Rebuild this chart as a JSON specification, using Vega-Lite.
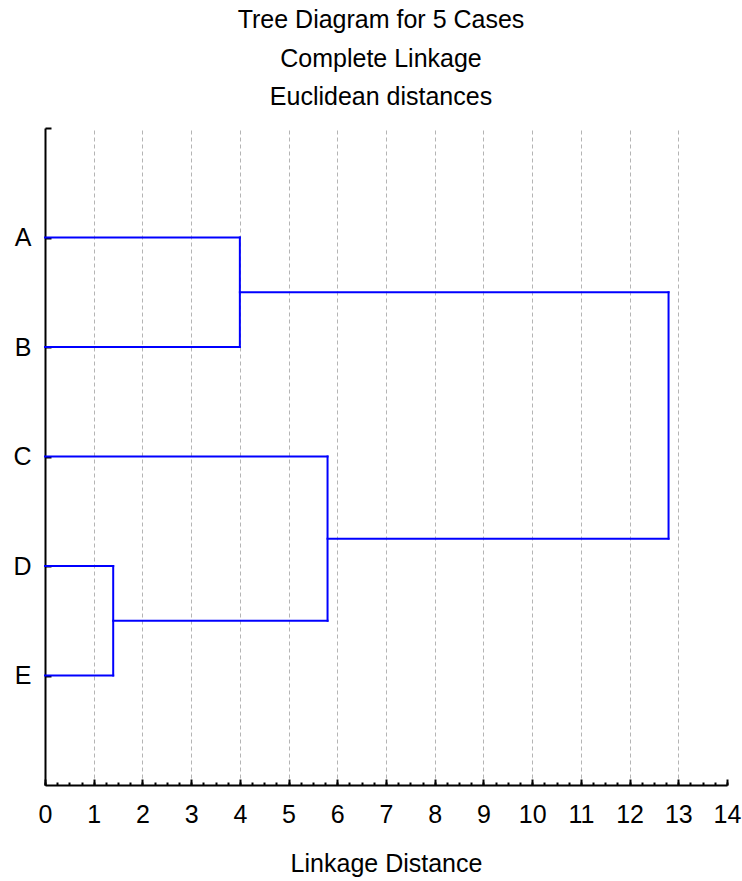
{
  "$schema": "https://vega.github.io/schema/vega-lite/v6.json",
  "autosize": {"type": "none"},
  "width": 682,
  "height": 657,
  "padding": {"left": 45, "top": 128, "right": 15, "bottom": 96},
  "background": "white",
  "config": {
    "font": "Liberation Sans",
    "view": {"stroke": null},
    "axis": {"labelFont": "Liberation Sans", "titleFont": "Liberation Sans", "labelColor": "black", "titleColor": "black", "domainColor": "black", "tickColor": "black"}
  },
  "title": {
    "text": ["Tree Diagram for 5 Cases", "Complete Linkage", "Euclidean distances"],
    "fontSize": 25,
    "fontWeight": "normal",
    "font": "Liberation Sans",
    "lineHeight": 38.5,
    "anchor": "middle",
    "dx": -5,
    "color": "black",
    "offset": 17
  },
  "data": {
    "values": [
      {"x": 0, "x2": 4, "y": 1, "y2": 1},
      {"x": 0, "x2": 4, "y": 2, "y2": 2},
      {"x": 4, "x2": 4, "y": 1, "y2": 2},
      {"x": 4, "x2": 12.8, "y": 1.5, "y2": 1.5},
      {"x": 0, "x2": 5.8, "y": 3, "y2": 3},
      {"x": 0, "x2": 1.4, "y": 4, "y2": 4},
      {"x": 0, "x2": 1.4, "y": 5, "y2": 5},
      {"x": 1.4, "x2": 1.4, "y": 4, "y2": 5},
      {"x": 1.4, "x2": 5.8, "y": 4.5, "y2": 4.5},
      {"x": 5.8, "x2": 5.8, "y": 3, "y2": 4.5},
      {"x": 5.8, "x2": 12.8, "y": 3.75, "y2": 3.75},
      {"x": 12.8, "x2": 12.8, "y": 1.5, "y2": 3.75}
    ]
  },
  "resolve": {"axis": {"x": "independent"}},
  "layer": [
    {
      "transform": [{"filter": "datum.y == datum.y2"}],
      "mark": {"type": "rule", "color": "#0000ff", "strokeWidth": 2, "strokeCap": "square"},
      "encoding": {
        "x": {
          "field": "x", "type": "quantitative",
          "scale": {"domain": [0, 14], "nice": false, "zero": false},
          "axis": {
            "orient": "bottom",
            "values": [0, 1, 2, 3, 4, 5, 6, 7, 8, 9, 10, 11, 12, 13, 14],
            "title": "Linkage Distance",
            "titleFontSize": 25, "titleFontWeight": "normal", "titlePadding": 24,
            "labelFontSize": 25, "labelPadding": 23, "labelFlush": false,
            "tickSize": -6, "tickWidth": 2, "domainWidth": 2,
            "grid": true, "gridColor": "#b4b4b4", "gridDash": [4, 3], "gridWidth": 1,
            "gridOpacity": {"condition": {"test": "datum.value == 0 || datum.value == 14", "value": 0}, "value": 1}
          }
        },
        "x2": {"field": "x2"},
        "y": {
          "field": "y", "type": "quantitative",
          "scale": {"domain": [0, 6], "nice": false, "zero": false, "reverse": true},
          "axis": {
            "values": [0, 1, 2, 3, 4, 5],
            "labelExpr": "['', 'A', 'B', 'C', 'D', 'E'][datum.value]",
            "title": null,
            "labelFontSize": 25, "labelPadding": 20,
            "tickSize": -6, "tickWidth": 2, "domainWidth": 2,
            "grid": false
          }
        }
      }
    },
    {
      "transform": [{"filter": "datum.x == datum.x2"}],
      "mark": {"type": "rule", "color": "#0000ff", "strokeWidth": 2, "strokeCap": "square"},
      "encoding": {
        "x": {
          "field": "x", "type": "quantitative",
          "axis": {
            "orient": "bottom",
            "values": [0, 0.25, 0.5, 0.75, 1, 1.25, 1.5, 1.75, 2, 2.25, 2.5, 2.75, 3, 3.25, 3.5, 3.75, 4, 4.25, 4.5, 4.75, 5, 5.25, 5.5, 5.75, 6, 6.25, 6.5, 6.75, 7, 7.25, 7.5, 7.75, 8, 8.25, 8.5, 8.75, 9, 9.25, 9.5, 9.75, 10, 10.25, 10.5, 10.75, 11, 11.25, 11.5, 11.75, 12, 12.25, 12.5, 12.75, 13, 13.25, 13.5, 13.75, 14],
            "labels": false, "title": null, "domain": false, "grid": false,
            "tickSize": -3, "tickWidth": 2
          }
        },
        "y": {"field": "y", "type": "quantitative"},
        "y2": {"field": "y2"}
      }
    }
  ]
}
